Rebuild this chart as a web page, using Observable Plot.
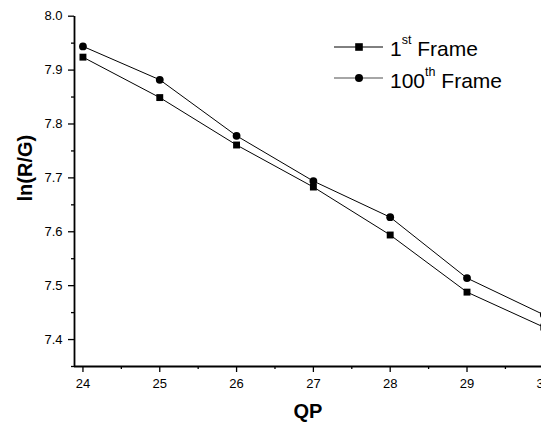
<!DOCTYPE html>
<html>
<head>
<meta charset="utf-8">
<script src="https://cdn.jsdelivr.net/npm/d3@7"></script>
<script src="https://cdn.jsdelivr.net/npm/@observablehq/plot@0.6"></script>
<style>
  body { margin: 0; background: #fff; overflow: hidden; }
  #chart { position: relative; width: 541px; height: 424px; }
  .legend { position: absolute; left: 0; top: 0; font-family: "Liberation Sans", Arial, sans-serif; color: #000; }
  .swatch { position: absolute; }
  .entry { position: absolute; font-size: 21px; line-height: 21px; white-space: nowrap; }
  .entry sup { font-size: 12.5px; vertical-align: baseline; position: relative; top: -12.5px; line-height: 0; }
</style>
</head>
<body>
<div id="chart"></div>
<script>
// QP values on the x axis
const qp = [24, 25, 26, 27, 28, 29, 30];
// ln(R/G) for the first frame
const frame1 = [7.924, 7.849, 7.761, 7.683, 7.594, 7.488, 7.423];
// ln(R/G) for the 100th frame
const frame100 = [7.944, 7.882, 7.778, 7.694, 7.627, 7.514, 7.446];
// tick values
const xTicks = [24, 25, 26, 27, 28, 29, 30];
const xMinorTicks = [24.5, 25.5, 26.5, 27.5, 28.5, 29.5];
const yTicks = [7.4, 7.5, 7.6, 7.7, 7.8, 7.9, 8.0];
const yMinorTicks = [7.35, 7.45, 7.55, 7.65, 7.75, 7.85, 7.95];
const xDomain = [23.89, 30.1];
const yDomain = [7.35, 8.0];

const rows1 = qp.map((q, i) => ({qp: q, v: frame1[i]}));
const rows100 = qp.map((q, i) => ({qp: q, v: frame100[i]}));

const chart = Plot.plot({
  width: 541,
  height: 424,
  marginLeft: 74,
  marginTop: 16,
  marginBottom: 58,
  marginRight: 0,
  x: {domain: xDomain, range: [74, 551]},
  y: {domain: yDomain, range: [366, 15.7]},
  style: {fontFamily: "'Liberation Sans', Arial, sans-serif", fontSize: "13px", color: "#000", background: "#fff", overflow: "hidden"},
  marks: [
    Plot.axisY({ticks: yTicks, tickFormat: d3.format(".1f"), tickSize: 6, tickPadding: 6, label: null, strokeWidth: 1.3}),
    Plot.axisY({ticks: yMinorTicks, tickSize: 3, text: null, label: null, strokeWidth: 1.3}),
    Plot.axisX({ticks: xTicks, tickFormat: d3.format("d"), tickSize: 6, tickPadding: 6, label: null, strokeWidth: 1.3}),
    Plot.axisX({ticks: xMinorTicks, tickSize: 3, text: null, label: null, strokeWidth: 1.3}),
    Plot.ruleX([xDomain[0]], {stroke: "#000", strokeWidth: 1.8}),
    Plot.ruleY([yDomain[0]], {stroke: "#000", strokeWidth: 1.8}),
    Plot.line(rows1, {x: "qp", y: "v", stroke: "#000", strokeWidth: 1}),
    Plot.line(rows100, {x: "qp", y: "v", stroke: "#000", strokeWidth: 1}),
    Plot.dot(rows1, {x: "qp", y: "v", symbol: "square", r: 3.9, fill: "#000", stroke: "none"}),
    Plot.dot(rows100, {x: "qp", y: "v", symbol: "circle", r: 3.9, fill: "#000", stroke: "none"}),
    Plot.text(["ln(R/G)"], {frameAnchor: "left", dx: -49, dy: 10, rotate: -90, lineAnchor: "middle", fontWeight: "bold", fontSize: 20}),
    Plot.text(["QP"], {frameAnchor: "bottom", dy: 45.5, lineAnchor: "middle", fontWeight: "bold", fontSize: 20})
  ]
});
chart.style.position = "absolute";
chart.style.left = "0";
chart.style.top = "0";
const host = document.getElementById("chart");
host.appendChild(chart);

// legend: line-and-marker swatches with labels
const legend = document.createElement("div");
legend.className = "legend";
legend.innerHTML = `
  <svg class="swatch" style="left:334px;top:36.7px" width="50" height="20">
    <line x1="0" x2="49" y1="10" y2="10" stroke="#000" stroke-width="1"/>
    <rect x="21.2" y="6.2" width="7.6" height="7.6" fill="#000"/>
  </svg>
  <div class="entry" style="left:390px;top:38px">1<sup>st</sup> Frame</div>
  <svg class="swatch" style="left:334px;top:68.3px" width="50" height="20">
    <line x1="0" x2="49" y1="10" y2="10" stroke="#888" stroke-width="1.6"/>
    <circle cx="25" cy="10" r="4" fill="#000"/>
  </svg>
  <div class="entry" style="left:390px;top:70px">100<sup>th</sup> Frame</div>
`;
host.appendChild(legend);
</script>
</body>
</html>
